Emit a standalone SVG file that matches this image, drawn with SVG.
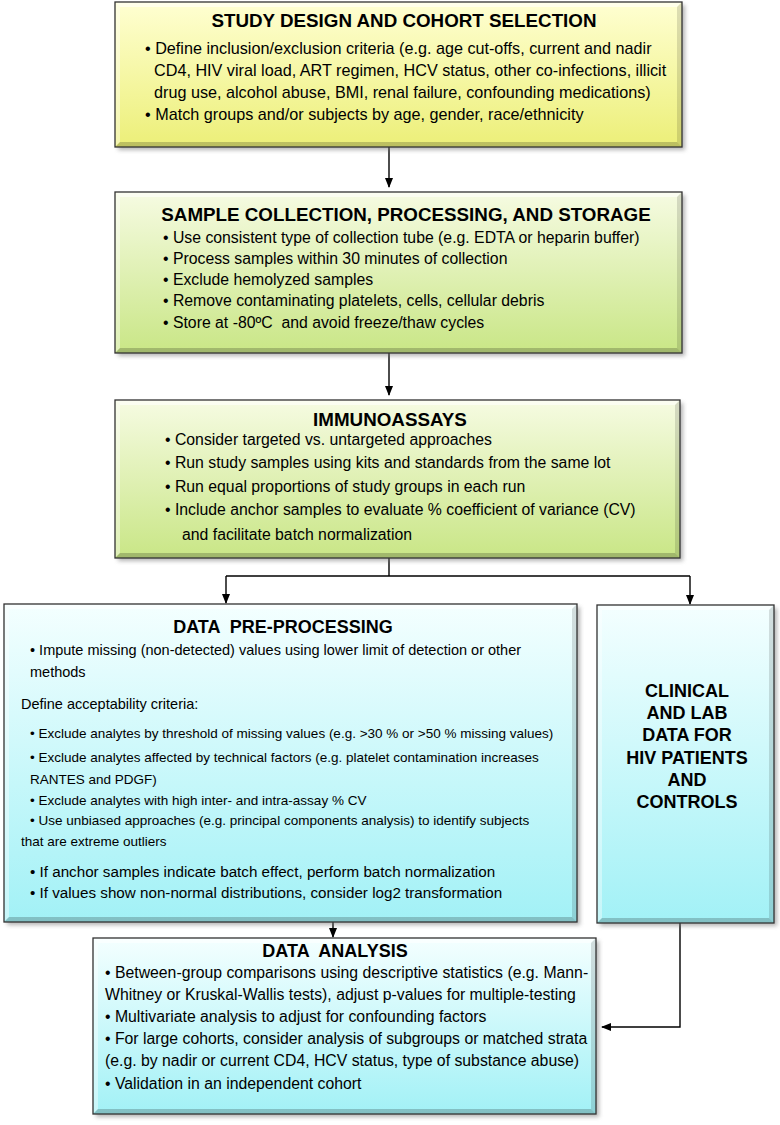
<svg xmlns="http://www.w3.org/2000/svg" width="780" height="1125" viewBox="0 0 780 1125">
<defs>
<linearGradient id="gy" x1="0" y1="0" x2="0" y2="1"><stop offset="0" stop-color="#ffffd2"/><stop offset="1" stop-color="#ecef78"/></linearGradient>
<linearGradient id="gg" x1="0" y1="0" x2="0" y2="1"><stop offset="0" stop-color="#f6fbe2"/><stop offset="1" stop-color="#c9e686"/></linearGradient>
<linearGradient id="gc" x1="0" y1="0" x2="0" y2="1"><stop offset="0" stop-color="#f4ffff"/><stop offset="1" stop-color="#a2f1f6"/></linearGradient>
<filter id="sh" x="-5%" y="-5%" width="115%" height="115%"><feGaussianBlur stdDeviation="2"/></filter>
<marker id="ah" markerWidth="10" markerHeight="10" refX="9" refY="5" orient="auto" markerUnits="userSpaceOnUse"><path d="M0,1 L10,5 L0,9 z" fill="#000"/></marker>
</defs>
<style>
.shadow{fill:#777;opacity:.55;filter:url(#sh)}
.bd{fill:none;stroke:#333;stroke-width:1.3}
.bb{fill:#000;opacity:.2}
.br{fill:#000;opacity:.13}
.bt{fill:#fff;opacity:.55}
.bl{fill:#fff;opacity:.4}
.t{font-family:"Liberation Sans",Arial,Helvetica,sans-serif;fill:#000}
.h{font-weight:bold;font-size:18.8px;text-anchor:middle}
.h2{font-weight:bold;font-size:18px;text-anchor:middle}
.b16{font-size:16.2px}
.b15{font-size:15.8px}
.b152{font-size:15.2px}
.b14{font-size:14.5px}
.b13{font-size:13.5px}
.cl{font-weight:bold;font-size:18px;text-anchor:middle}
.cn{fill:none;stroke:#000;stroke-width:1.4}
</style>

<g id="connectors">
<line class="cn" x1="389" y1="147" x2="389" y2="187" marker-end="url(#ah)"/>
<line class="cn" x1="389" y1="353" x2="389" y2="395" marker-end="url(#ah)"/>
<polyline class="cn" points="389,558 389,576"/>
<polyline class="cn" points="226,576 690,576"/>
<line class="cn" x1="226" y1="576" x2="226" y2="603" marker-end="url(#ah)"/>
<line class="cn" x1="690" y1="576" x2="690" y2="604" marker-end="url(#ah)"/>
<line class="cn" x1="333" y1="922" x2="333" y2="937" marker-end="url(#ah)"/>
<polyline class="cn" points="680,923 680,1027 602,1027" marker-end="url(#ah)"/>
</g>

<g id="study-design">
<rect class="shadow" x="118" y="5" width="567" height="145"/>
<rect x="115" y="2" width="567" height="145" fill="url(#gy)"/>
<polygon class="bt" points="115,2 682,2 677,7 120,7"/>
<polygon class="bl" points="115,2 120,7 120,142 115,147"/>
<polygon class="bb" points="115,147 682,147 677,142 120,142"/>
<polygon class="br" points="682,2 682,147 677,142 677,7"/>
<rect class="bd" x="115" y="2" width="567" height="145"/>
<text class="t h" x="404" y="27">STUDY DESIGN AND COHORT SELECTION</text>
<text class="t b16" x="145" y="54">• Define inclusion/exclusion criteria (e.g. age cut-offs, current and nadir</text>
<text class="t b16" x="154" y="76">CD4, HIV viral load, ART regimen, HCV status, other co-infections, illicit</text>
<text class="t b16" x="154" y="98">drug use, alcohol abuse, BMI, renal failure, confounding medications)</text>
<text class="t b16" x="145" y="120">• Match groups and/or subjects by age, gender, race/ethnicity</text>
</g>

<g id="sample-collection">
<rect class="shadow" x="118" y="195" width="567" height="161"/>
<rect x="115" y="192" width="567" height="161" fill="url(#gg)"/>
<polygon class="bt" points="115,192 682,192 677,197 120,197"/>
<polygon class="bl" points="115,192 120,197 120,348 115,353"/>
<polygon class="bb" points="115,353 682,353 677,348 120,348"/>
<polygon class="br" points="682,192 682,353 677,348 677,197"/>
<rect class="bd" x="115" y="192" width="567" height="161"/>
<text class="t h" x="406" y="221">SAMPLE COLLECTION, PROCESSING, AND STORAGE</text>
<text class="t b15" x="163" y="243">• Use consistent type of collection tube (e.g. EDTA or heparin buffer)</text>
<text class="t b15" x="163" y="264">• Process samples within 30 minutes of collection</text>
<text class="t b15" x="163" y="285">• Exclude hemolyzed samples</text>
<text class="t b15" x="163" y="306">• Remove contaminating platelets, cells, cellular debris</text>
<text class="t b15" x="163" y="328" xml:space="preserve">• Store at -80ºC  and avoid freeze/thaw cycles</text>
</g>

<g id="immunoassays">
<rect class="shadow" x="118" y="403" width="565" height="158"/>
<rect x="115" y="400" width="565" height="158" fill="url(#gg)"/>
<polygon class="bt" points="115,400 680,400 675,405 120,405"/>
<polygon class="bl" points="115,400 120,405 120,553 115,558"/>
<polygon class="bb" points="115,558 680,558 675,553 120,553"/>
<polygon class="br" points="680,400 680,558 675,553 675,405"/>
<rect class="bd" x="115" y="400" width="565" height="158"/>
<text class="t h" x="390" y="426">IMMUNOASSAYS</text>
<text class="t b15" x="165" y="445">• Consider targeted vs. untargeted approaches</text>
<text class="t b15" x="165" y="468">• Run study samples using kits and standards from the same lot</text>
<text class="t b15" x="165" y="491.5">• Run equal proportions of study groups in each run</text>
<text class="t b15" x="165" y="515">• Include anchor samples to evaluate % coefficient of variance (CV)</text>
<text class="t b15" x="182" y="540">and facilitate batch normalization</text>
</g>

<g id="data-preprocessing">
<rect class="shadow" x="7" y="607" width="573" height="318"/>
<rect x="4" y="604" width="573" height="318" fill="url(#gc)"/>
<polygon class="bt" points="4,604 577,604 572,609 9,609"/>
<polygon class="bl" points="4,604 9,609 9,917 4,922"/>
<polygon class="bb" points="4,922 577,922 572,917 9,917"/>
<polygon class="br" points="577,604 577,922 572,917 572,609"/>
<rect class="bd" x="4" y="604" width="573" height="318"/>
<text class="t h2" x="283" y="633" xml:space="preserve">DATA  PRE-PROCESSING</text>
<text class="t b14" x="30" y="655">• Impute missing (non-detected) values using lower limit of detection or other</text>
<text class="t b14" x="30" y="677">methods</text>
<text class="t b14" x="21" y="709">Define acceptability criteria:</text>
<text class="t b13" x="30" y="738">• Exclude analytes by threshold of missing values (e.g. &gt;30 % or &gt;50 % missing values)</text>
<text class="t b13" x="30" y="762">• Exclude analytes affected by technical factors (e.g. platelet contamination increases</text>
<text class="t b13" x="30" y="784">RANTES and PDGF)</text>
<text class="t b13" x="30" y="805">• Exclude analytes with high inter- and intra-assay % CV</text>
<text class="t b13" x="30" y="825">• Use unbiased approaches (e.g. principal components analysis) to identify subjects</text>
<text class="t b13" x="21" y="846">that are extreme outliers</text>
<text class="t b152" x="30" y="877">• If anchor samples indicate batch effect, perform batch normalization</text>
<text class="t b152" x="30" y="898">• If values show non-normal distributions, consider log2 transformation</text>
</g>

<g id="clinical-data">
<rect class="shadow" x="600" y="608" width="177" height="318"/>
<rect x="597" y="605" width="177" height="318" fill="url(#gc)"/>
<polygon class="bt" points="597,605 774,605 769,610 602,610"/>
<polygon class="bl" points="597,605 602,610 602,918 597,923"/>
<polygon class="bb" points="597,923 774,923 769,918 602,918"/>
<polygon class="br" points="774,605 774,923 769,918 769,610"/>
<rect class="bd" x="597" y="605" width="177" height="318"/>
<text class="t cl" x="687" y="697">CLINICAL</text>
<text class="t cl" x="687" y="719">AND LAB</text>
<text class="t cl" x="687" y="741">DATA FOR</text>
<text class="t cl" x="687" y="764">HIV PATIENTS</text>
<text class="t cl" x="687" y="786">AND</text>
<text class="t cl" x="687" y="808">CONTROLS</text>
</g>

<g id="data-analysis">
<rect class="shadow" x="96" y="941" width="503" height="176"/>
<rect x="93" y="938" width="503" height="176" fill="url(#gc)"/>
<polygon class="bt" points="93,938 596,938 591,943 98,943"/>
<polygon class="bl" points="93,938 98,943 98,1109 93,1114"/>
<polygon class="bb" points="93,1114 596,1114 591,1109 98,1109"/>
<polygon class="br" points="596,938 596,1114 591,1109 591,943"/>
<rect class="bd" x="93" y="938" width="503" height="176"/>
<text class="t h2" x="335" y="957" xml:space="preserve">DATA  ANALYSIS</text>
<text class="t b15" x="105" y="978">• Between-group comparisons using descriptive statistics (e.g. Mann-</text>
<text class="t b15" x="105" y="1000">Whitney or Kruskal-Wallis tests), adjust p-values for multiple-testing</text>
<text class="t b15" x="105" y="1022">• Multivariate analysis to adjust for confounding factors</text>
<text class="t b15" x="105" y="1044">• For large cohorts, consider analysis of subgroups or matched strata</text>
<text class="t b15" x="105" y="1066">(e.g. by nadir or current CD4, HCV status, type of substance abuse)</text>
<text class="t b15" x="105" y="1089">• Validation in an independent cohort</text>
</g>
</svg>
